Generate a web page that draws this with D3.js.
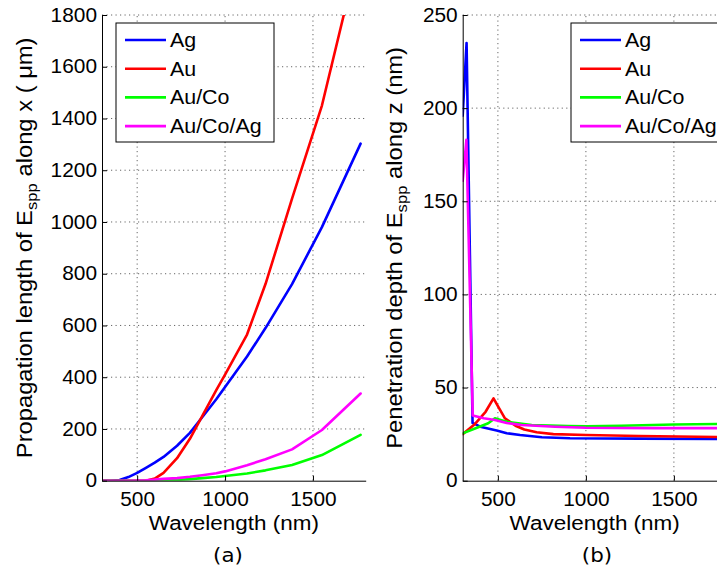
<!DOCTYPE html>
<html><head><meta charset="utf-8">
<script src="https://cdn.jsdelivr.net/npm/d3@7"></script>
<style>body{margin:0;background:#fff} svg{display:block}</style>
</head><body><svg id="c" width="717" height="577"></svg>
<script>
// ---------- data ----------
const seriesNames = ["Ag", "Au", "Au/Co", "Au/Co/Ag"];
const seriesColors = ["#0000ff", "#ff0000", "#00ff00", "#ff00ff"];

// (a) propagation length (µm) vs wavelength (nm)
const wlA = [300, 350, 400, 450, 500, 550, 600, 650, 727, 800, 870, 950, 1000, 1125, 1230, 1381, 1551, 1771];
const lenAg     = [0, 0, 3, 14, 30, 50, 70, 92, 135, 185, 245, 315, 362, 480, 590, 760, 980, 1303];
const lenAu     = [0, 0, 0, 0, 0, 0, 8, 30, 87, 162, 250, 350, 410, 565, 760, 1090, 1450, 2070];
const lenAuCo   = [0, 0, 0, 0, 0, 0, 1, 2, 3, 6, 10, 14, 18, 28, 40, 61, 99, 177];
const lenAuCoAg = [0, 0, 0, 0, 1, 2, 4, 7, 10, 15, 21, 29, 36, 60, 83, 121, 196, 337];

// (b) penetration depth (nm) vs wavelength (nm)
const wlAg     = [300, 322, 356, 400, 493, 550, 626, 750, 910, 1300, 1771];
const depthAg  = [196, 235, 31, 29, 27, 25.5, 24.5, 23.3, 22.8, 22.6, 22.4];
const wlAu     = [300, 370, 430, 475, 500, 540, 600, 650, 720, 815, 1000, 1300, 1771];
const depthAu  = [25, 30.5, 37, 44.2, 40, 33.5, 29.5, 27.5, 26, 25, 24.5, 24, 23.4];
const wlAuCo   = [300, 370, 445, 483, 520, 560, 692, 900, 1005, 1200, 1500, 1771];
const depthAuCo= [25.4, 28, 30.8, 33.5, 32.5, 31.5, 29.9, 29.4, 29.2, 29.5, 30.2, 30.5];
const wlAuCoAg    = [300, 321, 357, 420, 483, 550, 635, 824, 1000, 1400, 1771];
const depthAuCoAg = [161, 183, 35, 33.5, 32.6, 31, 29.9, 29, 28.4, 28.2, 28.2];

const xTicks  = [500, 1000, 1500];
const yTicksA = [0, 200, 400, 600, 800, 1000, 1200, 1400, 1600, 1800];
const yTicksB = [0, 50, 100, 150, 200, 250];

// ---------- drawing ----------
const svg = d3.select("#c");
const FONT = "'Liberation Sans', Arial, Helvetica, sans-serif";
const SX = 1.07;   // horizontal stretch of glyphs seen in the reference

function panel(id, left, right, yMax, yTicks, series, ylabel, yLabelX, tag, legendX) {
  const top = 15, bottom = 480.7;
  const x = d3.scaleLinear().domain([300, 1800]).range([left, right]);
  const y = d3.scaleLinear().domain([0, yMax]).range([bottom, top]);
  const g = svg.append("g");

  svg.append("clipPath").attr("id", "clip" + id)
    .append("rect").attr("x", left).attr("y", top).attr("width", right - left).attr("height", bottom - top);

  // grid
  const grid = g.append("g").attr("stroke", "#666").attr("stroke-width", 1)
    .attr("stroke-dasharray", "1.2,3.3").attr("fill", "none");
  xTicks.forEach(t => grid.append("line").attr("x1", x(t)).attr("x2", x(t)).attr("y1", bottom).attr("y2", top));
  yTicks.filter(t => t > 0).forEach(t => grid.append("line").attr("x1", left).attr("x2", right).attr("y1", y(t)).attr("y2", y(t)));

  // lines
  const lg = g.append("g").attr("clip-path", `url(#clip${id})`);
  series.forEach((s, i) => {
    const pts = s.x.map((v, k) => [v, s.y[k]]);
    lg.append("path").datum(pts)
      .attr("fill", "none").attr("stroke", seriesColors[i]).attr("stroke-width", 2.6)
      .attr("stroke-linejoin", "round").attr("stroke-linecap", "round")
      .attr("d", d3.line().x(d => x(d[0])).y(d => y(d[1])));
  });

  // axes
  const fmt = d3.format("d");
  const ax = g.append("g").attr("transform", `translate(0,${bottom})`)
    .call(d3.axisBottom(x).tickValues(xTicks).tickFormat(fmt).tickSizeInner(-5).tickSizeOuter(0).tickPadding(11));
  const ay = g.append("g").attr("transform", `translate(${left},0)`)
    .call(d3.axisLeft(y).tickValues(yTicks).tickFormat(fmt).tickSizeInner(-5).tickSizeOuter(0).tickPadding(5));
  [ax, ay].forEach(a => {
    a.select(".domain").attr("stroke", "#000").attr("stroke-width", 1);
    a.selectAll(".tick line").attr("stroke", "#000");
    a.selectAll("text").attr("font-family", FONT).attr("font-size", 19.5).attr("fill", "#000")
      .attr("transform", `scale(${SX},1)`);
  });
  ay.selectAll("text").attr("x", -5 / SX);

  // x label
  g.append("text").attr("font-family", FONT).attr("font-size", 21).attr("text-anchor", "middle")
    .attr("transform", `translate(${(left + right) / 2},530) scale(${SX},1)`).text("Wavelength (nm)");

  // y label
  const yl = g.append("text").attr("font-family", FONT).attr("font-size", 22).attr("text-anchor", "middle")
    .attr("transform", `translate(${yLabelX},${(top + bottom) / 2}) scale(1,1.08) rotate(-90)`);
  yl.append("tspan").text(ylabel[0]);
  yl.append("tspan").attr("font-size", 15.5).attr("dy", "0.3em").text(ylabel[1]);
  yl.append("tspan").attr("dy", "-0.212em").text(ylabel[2]);

  // panel tag
  g.append("text").attr("font-family", "'DejaVu Sans', sans-serif").attr("font-size", 20)
    .attr("text-anchor", "middle").attr("transform", `translate(${tag[1]},562) scale(${SX},1)`).text(tag[0]);

  // legend
  const L = g.append("g");
  L.append("rect").attr("x", legendX).attr("y", 23).attr("width", 158).attr("height", 119)
    .attr("fill", "#fff").attr("stroke", "#000").attr("stroke-width", 1);
  seriesNames.forEach((n, i) => {
    const yy = 40 + i * 28.7;
    L.append("line").attr("x1", legendX + 9).attr("x2", legendX + 50).attr("y1", yy).attr("y2", yy)
      .attr("stroke", seriesColors[i]).attr("stroke-width", 2.6);
    L.append("text").attr("font-family", FONT).attr("font-size", 20)
      .attr("transform", `translate(${legendX + 54},${yy + 7}) scale(${SX},1)`).text(n);
  });
}

panel("A", 102, 365.7, 1800, yTicksA, [
  { x: wlA, y: lenAg }, { x: wlA, y: lenAu }, { x: wlA, y: lenAuCo }, { x: wlA, y: lenAuCoAg }
], ["Propagation length of E", "spp", " along x ( \u03bcm)"], 32, ["(a)", 228], 116);

panel("B", 462.7, 726.7, 250, yTicksB, [
  { x: wlAg, y: depthAg }, { x: wlAu, y: depthAu }, { x: wlAuCo, y: depthAuCo }, { x: wlAuCoAg, y: depthAuCoAg }
], ["Penetration depth of E", "spp", " along z (nm)"], 402, ["(b)", 597], 571);
</script>
</body></html>
